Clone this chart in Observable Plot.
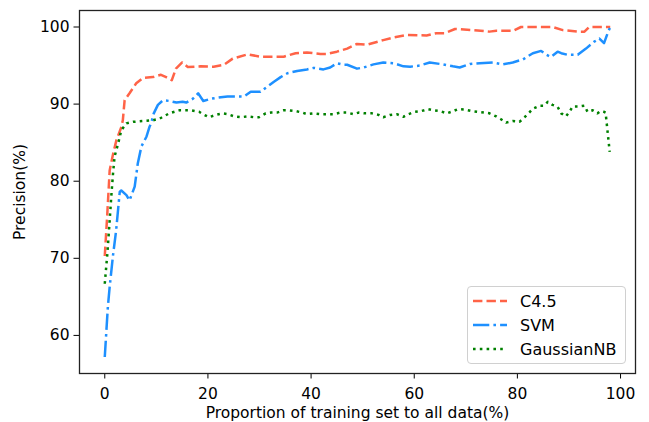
<!DOCTYPE html>
<html>
<head>
<meta charset="utf-8">
<script src="https://cdn.jsdelivr.net/npm/d3@7"></script>
<script src="https://cdn.jsdelivr.net/npm/@observablehq/plot@0.6"></script>
<style>
  html, body { margin: 0; padding: 0; background: #fff; }
  #wrap { position: relative; width: 649px; height: 422px; font-family: "DejaVu Sans", sans-serif; }
  #legend { position: absolute; left: 467px; top: 286px; width: 159px; height: 78px; box-sizing: border-box;
    border: 1px solid #d0d0d0; border-radius: 4px; background: rgba(255,255,255,0.85); }
  .row { position: absolute; left: 0; height: 20px; display: flex; align-items: center; font-size: 16px; color: #000; }
  .row svg { margin-left: 5px; margin-right: 13px; }
</style>
</head>
<body>
<div id="wrap"></div>
<script>
// ---- data ----
const seriesNames = ["C4.5", "SVM", "GaussianNB"];
const seriesColors = ["#FF6347", "#1E90FF", "#008000"];
const seriesDash = ["9.4,4.1", "16.3,4.1,2.6,4.1", "2.6,4.2"];
const xTicks = [0, 20, 40, 60, 80, 100];
const yTicks = [60, 70, 80, 90, 100];

const c45X = [0, 0.45, 0.95, 1.6, 2.25, 3.2, 3.5, 3.85, 4.8, 6.1, 7.4, 9.3, 10.9, 11.9, 13.0, 13.8, 15.0, 16.1, 18.6, 21.1, 23.1, 24.8, 27.7, 30.2, 34.7, 37.0, 39.2, 41.8, 43.1, 45.0, 47.0, 48.9, 50.8, 54.0, 56.0, 58.5, 62.4, 64.3, 65.9, 67.9, 71.4, 74.6, 75.9, 79.1, 80.7, 86.8, 88.8, 92.0, 93.0, 93.9, 98.0];
const c45Y = [70.3, 75.3, 81.4, 83.5, 85.3, 87.0, 87.9, 90.5, 91.4, 92.7, 93.4, 93.5, 93.8, 93.5, 93.1, 94.6, 95.4, 94.8, 94.9, 94.85, 95.1, 95.9, 96.45, 96.15, 96.15, 96.6, 96.7, 96.5, 96.5, 96.8, 97.2, 97.8, 97.7, 98.3, 98.65, 98.96, 98.9, 99.2, 99.2, 99.74, 99.6, 99.4, 99.5, 99.5, 100, 100, 99.6, 99.4, 99.4, 100, 100];

const svmX = [0, 0.6, 0.95, 1.6, 2.2, 2.9, 3.2, 4.2, 4.8, 5.8, 6.4, 7.1, 8.1, 8.7, 9.0, 9.5, 10.3, 11.3, 12.6, 13.9, 15.1, 15.8, 17.1, 18.1, 19.1, 20.6, 22.5, 23.8, 27.0, 28.3, 30.2, 31.5, 32.8, 34.1, 35.4, 37.3, 39.2, 40.5, 42.4, 43.7, 45.0, 46.3, 47.0, 48.9, 50.2, 52.1, 54.0, 56.0, 57.9, 59.2, 61.1, 63.0, 65.6, 67.5, 68.8, 70.8, 72.7, 75.3, 77.2, 79.1, 81.1, 83.0, 84.6, 85.6, 86.5, 87.8, 88.5, 89.7, 91.7, 93.3, 94.9, 95.9, 96.8, 97.5, 98.0];
const svmY = [57.2, 63.7, 66.3, 70.4, 73.6, 78.6, 78.8, 78.2, 77.5, 79.3, 82.3, 84.5, 85.8, 87.1, 87.5, 88.8, 89.9, 90.5, 90.4, 90.2, 90.3, 90.2, 90.7, 91.4, 90.4, 90.7, 90.9, 91.0, 91.0, 91.6, 91.6, 92.25, 92.9, 93.5, 94.0, 94.3, 94.5, 94.7, 94.5, 94.75, 95.3, 95.1, 95.1, 94.6, 94.75, 95.15, 95.4, 95.3, 94.9, 94.85, 95.0, 95.4, 95.15, 94.9, 94.75, 95.2, 95.3, 95.4, 95.15, 95.4, 95.8, 96.6, 96.9, 96.4, 96.1, 96.8, 96.6, 96.4, 96.4, 97.2, 98.1, 98.5, 97.9, 99.2, 100];

const nbX = [0, 0.5, 0.95, 1.3, 1.6, 1.9, 2.6, 3.2, 4.2, 5.5, 7.4, 9.3, 10.6, 12.5, 14.5, 16.7, 18.3, 19.0, 20.2, 21.5, 22.8, 23.8, 25.1, 26.4, 27.7, 28.9, 29.9, 31.2, 32.2, 33.4, 34.7, 35.7, 37.0, 38.3, 39.2, 40.5, 41.8, 43.1, 44.4, 45.7, 47.0, 48.2, 49.2, 50.5, 51.8, 53.1, 54.0, 55.3, 56.6, 57.9, 58.9, 60.1, 61.4, 62.7, 63.7, 65.0, 66.3, 67.2, 68.5, 69.8, 71.1, 72.4, 73.7, 74.6, 75.9, 76.9, 77.8, 79.1, 80.4, 81.4, 82.3, 83.0, 84.3, 85.2, 85.9, 86.8, 87.8, 88.5, 89.4, 90.1, 90.7, 92.0, 93.0, 93.6, 94.6, 95.5, 96.2, 96.8, 97.1, 97.9];
const nbY = [66.7, 70.6, 74.9, 78.4, 81.0, 83.2, 84.9, 86.6, 87.5, 87.7, 87.8, 87.9, 88.1, 88.8, 89.2, 89.2, 89.0, 88.7, 88.3, 88.6, 88.8, 88.7, 88.4, 88.3, 88.4, 88.3, 88.3, 88.8, 88.9, 88.9, 89.2, 89.2, 89.1, 88.9, 88.7, 88.8, 88.7, 88.7, 88.7, 88.9, 88.9, 88.7, 88.9, 88.8, 88.8, 88.6, 88.3, 88.6, 88.7, 88.35, 88.7, 89.0, 89.1, 89.35, 89.2, 89.1, 88.8, 89.0, 89.35, 89.3, 89.1, 89.0, 88.9, 88.8, 88.4, 88.0, 87.6, 87.8, 87.7, 88.3, 88.9, 89.4, 89.8, 89.8, 90.3, 89.9, 89.65, 88.8, 88.4, 89.0, 89.7, 89.7, 89.8, 89.0, 89.2, 88.8, 89.1, 89.0, 88.9, 83.8];

const xLabel = "Proportion of training set to all data(%)";
const yLabel = "Precision(%)";

// ---- build tables ----
const toRows = (xs, ys) => xs.map((x, i) => ({x, y: ys[i]}));
const series = [toRows(c45X, c45Y), toRows(svmX, svmY), toRows(nbX, nbY)];

// matplotlib-like 5% margins
const allX = [...c45X, ...svmX, ...nbX];
const allY = [...c45Y, ...svmY, ...nbY];
const pad = (lo, hi) => [lo - 0.05 * (hi - lo), hi + 0.05 * (hi - lo)];
const xDomain = pad(d3.min(allX), d3.max(allX));
const yDomain = pad(d3.min(allY), d3.max(allY));

const chart = Plot.plot({
  width: 649,
  height: 422,
  marginLeft: 79,
  marginRight: 14,
  marginTop: 10,
  marginBottom: 49,
  style: {fontFamily: "DejaVu Sans", fontSize: "15.5px", color: "#000", background: "#fff"},
  x: {domain: xDomain, ticks: xTicks, tickSize: 5.5, tickPadding: 9, label: null},
  y: {domain: yDomain, ticks: yTicks, tickSize: 5.5, tickPadding: 4.5, label: null},
  marks: [
    ...series.map((rows, i) => Plot.line(rows, {
      x: "x", y: "y",
      stroke: seriesColors[i],
      strokeWidth: 2.5,
      strokeDasharray: seriesDash[i],
      strokeLinecap: "butt",
      strokeLinejoin: "round"
    })),
    Plot.frame({stroke: "#222", strokeWidth: 1.3}),
    Plot.text([xLabel], {text: d => d, frameAnchor: "bottom", lineAnchor: "middle", textAnchor: "middle", dy: 40, fontSize: 15.5}),
    Plot.text([yLabel], {text: d => d, frameAnchor: "left", lineAnchor: "middle", textAnchor: "middle", dx: -59, rotate: -90, fontSize: 15.5})
  ]
});

const wrap = document.getElementById("wrap");
wrap.appendChild(chart);

// legend box in the lower right of the axes
const legend = document.createElement("div");
legend.id = "legend";
seriesNames.forEach((name, i) => {
  const row = document.createElement("div");
  row.className = "row";
  row.style.top = (4 + i * 24) + "px";
  row.innerHTML = `<svg width="34" height="6"><line x1="0" y1="3" x2="34" y2="3" stroke="${seriesColors[i]}" stroke-width="2.5" stroke-dasharray="${seriesDash[i]}"/></svg><span>${name}</span>`;
  legend.appendChild(row);
});
wrap.appendChild(legend);
</script>
</body>
</html>
